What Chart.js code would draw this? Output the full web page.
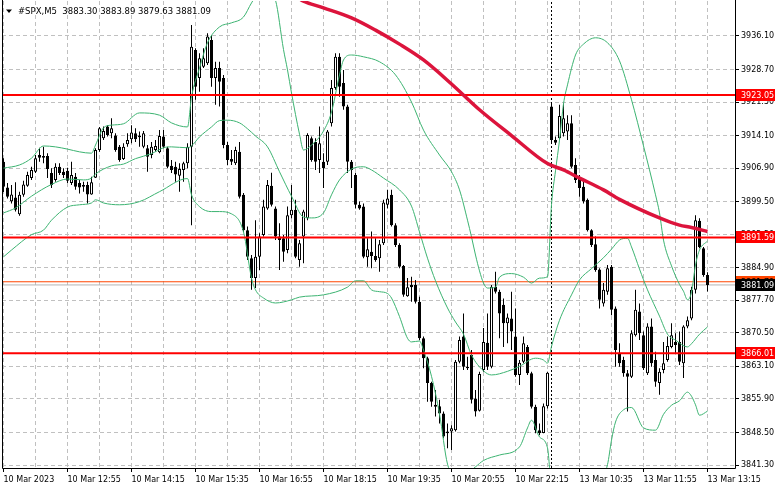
<!DOCTYPE html>
<html>
<head>
<meta charset="utf-8">
<script src="https://cdn.jsdelivr.net/npm/chart.js@4.4.1/dist/chart.umd.min.js"></script>
<style>
  html, body { margin: 0; padding: 0; background: #fff; }
  #wrap { width: 781px; height: 489px; position: relative; }
</style>
</head>
<body>
<div id="wrap"><canvas id="myChart"></canvas></div>
<script>
// bar index of each time label (5 minute bars)
var timeTicks = [0, 16, 32, 48, 64, 80, 96, 112, 128, 144, 160, 176];
var timeLabels = ['10 Mar 2023', '10 Mar 12:55', '10 Mar 14:15', '10 Mar 15:35', '10 Mar 16:55', '10 Mar 18:15',
  '10 Mar 19:35', '10 Mar 20:55', '10 Mar 22:15', '13 Mar 10:35', '13 Mar 11:55', '13 Mar 13:15'];
var priceTicks = [3841.30, 3848.50, 3855.90, 3863.10, 3870.50, 3877.70, 3884.90, 3892.20, 3899.50,
  3906.90, 3914.10, 3921.50, 3928.70, 3936.10];

var opens = [3908.3,3902.6,3899.6,3900.4,3896.7,3901.0,3903.0,3904.7,3906.1,3909.8,3909.2,3909.6,3905.8,3904.3,3907.2,3906.1,3906.3,3903.6,3905.0,3903.6,
  3902.8,3903.2,3901.1,3904.8,3910.9,3913.5,3916.1,3914.6,3914.1,3911.6,3908.9,3912.2,3913.3,3914.6,3914.1,3911.6,3911.3,3909.8,3910.9,3910.4,
  3913.9,3911.3,3907.4,3907.2,3905.2,3906.5,3908.0,3911.6,3933.0,3926.8,3929.3,3930.1,3935.2,3926.8,3929.0,3926.8,3912.0,3908.9,3908.0,3910.5,
  3901.0,3893.2,3887.0,3882.6,3887.3,3892.1,3898.0,3903.0,3898.0,3891.8,3891.4,3888.8,3896.5,3897.7,3886.6,3891.8,3895.8,3913.5,3912.7,3908.7,
  3908.3,3908.3,3916.8,3924.6,3931.5,3925.7,3920.5,3908.3,3905.4,3898.8,3898.4,3887.2,3888.4,3887.5,3887.0,3890.3,3898.8,3901.0,3894.3,3889.9,
  3885.3,3878.6,3881.1,3881.1,3877.4,3869.3,3864.9,3859.4,3854.6,3854.3,3852.7,3848.7,3848.7,3849.0,3864.1,3869.7,3863.0,3865.6,3856.0,3853.3,
  3862.3,3868.3,3863.0,3880.7,3879.6,3876.7,3872.6,3873.7,3869.7,3861.2,3864.1,3867.4,3861.6,3854.2,3849.0,3848.4,3854.3,3920.5,3913.1,3913.5,
  3914.6,3915.0,3916.8,3907.6,3905.0,3902.8,3899.9,3893.2,3890.1,3884.5,3877.0,3879.6,3885.1,3875.9,3866.0,3864.5,3861.6,3860.8,3870.0,3875.2,
  3870.0,3861.6,3871.9,3864.5,3859.4,3862.3,3864.5,3867.4,3868.5,3868.5,3863.8,3871.9,3873.7,3880.0,3895.3,3889.2,3883.30];
var highs = [3909.1,3903.6,3903.2,3903.8,3901.7,3904.1,3906.1,3907.2,3909.8,3911.4,3911.6,3910.2,3906.9,3908.0,3908.0,3906.9,3907.0,3908.3,3905.8,3904.3,
  3903.9,3903.9,3905.0,3911.3,3916.0,3916.1,3916.4,3917.9,3914.6,3912.0,3912.4,3914.6,3916.4,3915.7,3915.0,3915.1,3912.0,3912.7,3913.1,3915.3,
  3915.3,3911.6,3908.7,3908.3,3908.0,3908.3,3912.4,3938.5,3933.4,3932.3,3933.4,3936.7,3936.3,3930.4,3930.4,3927.5,3912.7,3910.9,3911.6,3912.7,
  3901.4,3894.0,3887.7,3895.4,3892.5,3899.9,3904.3,3905.9,3898.4,3894.7,3892.1,3898.4,3903.2,3899.9,3891.0,3897.7,3914.6,3913.9,3913.5,3916.1,
  3910.2,3915.3,3926.4,3932.3,3932.3,3928.6,3920.9,3908.7,3905.8,3899.5,3899.1,3891.4,3892.9,3891.4,3891.0,3899.9,3902.1,3902.1,3894.7,3890.3,
  3885.5,3882.6,3882.9,3882.2,3878.5,3869.7,3865.2,3859.7,3857.9,3855.7,3853.1,3850.5,3850.1,3864.5,3869.7,3874.8,3865.2,3866.7,3857.9,3861.9,
  3871.6,3874.8,3881.1,3884.0,3880.0,3878.1,3874.8,3879.6,3875.9,3864.5,3869.7,3867.8,3861.9,3854.6,3850.5,3854.9,3861.9,3921.2,3913.9,3920.9,
  3921.2,3918.6,3918.6,3909.1,3905.4,3903.9,3900.2,3893.4,3891.8,3884.8,3881.5,3885.5,3885.5,3876.3,3868.2,3865.2,3862.3,3871.1,3880.0,3877.0,
  3870.8,3872.6,3873.7,3866.3,3862.7,3868.5,3869.7,3872.6,3870.4,3870.8,3872.2,3874.1,3880.7,3896.5,3895.8,3889.5,3883.89];
var lows = [3901.6,3900.2,3899.1,3897.3,3896.4,3900.6,3902.8,3904.3,3905.8,3908.3,3908.0,3904.7,3902.5,3903.9,3905.4,3904.7,3903.6,3903.2,3902.1,3901.3,
  3901.7,3899.1,3901.0,3904.7,3910.5,3913.1,3913.9,3913.5,3910.5,3908.3,3908.7,3911.6,3912.4,3912.7,3911.6,3911.3,3906.1,3909.1,3910.5,3910.2,
  3911.3,3906.9,3905.8,3903.9,3901.7,3903.9,3906.9,3894.3,3922.0,3923.8,3929.0,3929.7,3924.9,3920.9,3920.5,3911.3,3907.6,3907.6,3907.6,3900.2,
  3892.8,3886.6,3880.0,3880.4,3884.4,3891.8,3897.7,3898.4,3891.0,3884.4,3886.2,3888.1,3895.8,3887.0,3885.1,3885.9,3895.4,3908.3,3906.5,3905.8,
  3902.5,3907.6,3916.1,3924.2,3922.7,3919.8,3905.8,3902.5,3898.0,3897.7,3887.0,3885.1,3884.8,3886.2,3884.0,3889.9,3898.0,3894.0,3889.5,3884.8,
  3878.5,3878.5,3877.4,3877.0,3868.9,3862.7,3855.3,3854.2,3852.0,3850.5,3847.2,3845.0,3844.6,3848.7,3863.8,3862.3,3862.3,3854.9,3852.0,3853.1,
  3861.9,3862.3,3862.7,3879.2,3869.3,3867.4,3868.2,3866.7,3860.8,3859.0,3863.8,3861.2,3853.8,3848.3,3847.9,3848.3,3853.8,3912.7,3912.0,3913.1,
  3913.9,3913.1,3906.9,3903.6,3900.6,3899.1,3892.9,3889.5,3884.0,3875.9,3876.3,3878.9,3874.4,3863.0,3863.0,3860.8,3853.1,3860.5,3869.7,3868.9,
  3862.3,3861.2,3863.0,3858.6,3856.8,3861.6,3864.1,3867.1,3866.0,3863.4,3860.5,3871.5,3873.3,3879.2,3889.2,3882.9,3879.63];
var closes = [3902.8,3900.6,3901.1,3897.7,3901.0,3903.3,3905.4,3906.5,3909.1,3909.2,3909.6,3906.7,3903.2,3907.2,3905.8,3905.4,3904.1,3905.4,3902.8,3902.6,
  3903.2,3901.1,3903.8,3910.9,3915.7,3915.1,3914.2,3915.7,3910.9,3908.7,3911.6,3913.1,3914.8,3913.3,3913.7,3914.6,3909.4,3911.6,3911.8,3914.0,
  3911.6,3907.2,3906.5,3905.5,3906.7,3908.0,3911.6,3933.7,3924.9,3931.2,3931.2,3936.0,3926.8,3929.0,3926.0,3912.0,3908.7,3908.3,3910.9,3900.6,
  3893.2,3887.3,3882.6,3887.3,3891.8,3898.4,3903.2,3898.8,3891.8,3891.0,3888.4,3896.5,3897.7,3887.3,3890.3,3897.3,3914.2,3908.7,3908.3,3912.4,
  3906.9,3915.0,3924.6,3931.5,3924.9,3920.5,3908.3,3906.5,3898.8,3898.0,3887.3,3889.0,3887.5,3886.6,3890.1,3899.3,3900.2,3894.3,3889.9,3885.1,
  3878.9,3880.6,3880.6,3877.4,3869.3,3864.9,3859.4,3855.3,3854.2,3852.7,3847.6,3848.3,3849.4,3864.1,3868.9,3863.0,3862.7,3855.7,3853.1,3861.4,
  3868.5,3863.0,3880.7,3879.6,3874.8,3872.6,3873.9,3870.8,3861.2,3863.9,3868.2,3861.6,3854.2,3849.0,3848.3,3854.3,3861.7,3913.1,3912.5,3918.4,
  3917.9,3916.8,3907.2,3904.3,3902.5,3899.5,3893.2,3889.9,3884.4,3877.8,3880.0,3884.8,3875.6,3866.7,3863.8,3861.6,3860.8,3870.4,3875.6,3870.4,
  3862.7,3871.9,3863.8,3859.7,3861.9,3863.8,3867.6,3870.0,3867.8,3864.1,3871.9,3873.3,3880.0,3895.4,3889.5,3883.3,3881.09];

// moving average, read at a few bars
var maIdx = [74, 75, 80, 87, 93, 99, 105, 112, 119, 127, 136, 140, 144, 150, 154, 164, 169, 172, 176];
var maVal = [3944.3, 3943.8, 3942.3, 3940.1, 3937.4, 3934.3, 3930.8, 3925.5, 3919.8, 3914.1, 3907.9, 3906.5,
  3904.7, 3902.1, 3900.0, 3895.9, 3894.3, 3893.8, 3892.9];

// Bollinger bands, read at a few bars
var upIdx = [0,4,7,10,13,16,19,22,23,25,27,30,34,39,42,46,47,49,51,54,57,60,62,65,68,70,71,72,74,75,77,80,82,84,85,87,90,94,98,102,105,109,112,114,
  116,117,118,119,120,121,123,124,127,130,132,134,136,137,138,139,140,141,143,145,148,151,154,157,160,163,164,165,167,169,170,171,172,173,174,176];
var upVal = [3906.9,3907.6,3909.1,3911.8,3911.6,3911.1,3910.5,3910.2,3912.0,3915.8,3916.4,3916.7,3919.1,3918.6,3916.9,3916.0,3922.6,3929.0,3934.6,
  3938.1,3939.0,3940.3,3943.4,3947.0,3944.0,3933.1,3928.6,3923.5,3914.4,3910.9,3912.0,3915.1,3919.3,3927.5,3930.8,3931.9,3931.5,3930.4,3927.5,
  3921.5,3915.3,3909.8,3906.1,3902.1,3895.4,3891.7,3887.7,3884.2,3881.5,3880.4,3880.6,3882.8,3883.6,3882.8,3881.5,3882.6,3882.9,3898.8,3906.3,
  3913.1,3921.1,3925.3,3931.9,3934.3,3935.7,3934.6,3930.6,3922.0,3911.8,3901.0,3897.0,3891.0,3885.3,3881.2,3879.7,3877.8,3879.5,3885.5,3888.8,3890.8];
var midIdx = [0,3,7,12,16,20,22,23,27,30,33,37,40,42,46,47,49,52,54,56,59,61,63,66,69,72,75,77,80,82,84,87,90,92,95,99,102,104,106,108,111,113,
  115,117,120,122,126,129,133,135,136,137,139,142,144,147,150,152,154,156,157,159,161,164,166,168,171,172,174,176];
var midVal = [3897.0,3898.1,3900.7,3903.3,3904.5,3904.3,3904.7,3905.6,3907.4,3907.8,3909.0,3910.1,3911.4,3911.6,3911.4,3911.8,3913.8,3916.0,3917.4,
  3917.5,3916.9,3915.6,3914.0,3911.6,3906.1,3900.7,3896.1,3895.9,3897.0,3901.0,3904.3,3906.7,3907.2,3906.5,3904.7,3902.1,3898.5,3892.8,3887.0,
  3882.0,3876.0,3872.9,3870.2,3865.6,3862.1,3861.2,3862.0,3863.1,3864.9,3864.5,3863.8,3867.5,3873.3,3878.9,3882.2,3884.7,3887.1,3889.0,3891.0,
  3891.4,3889.5,3884.6,3880.0,3874.2,3870.2,3868.9,3867.4,3868.1,3870.2,3871.8];
var lowIdx = [0,2,7,10,12,16,19,22,23,25,29,34,39,46,47,49,52,54,57,60,62,63,65,68,72,74,80,86,88,90,92,94,96,97,99,101,102,104,105,107,109,111,
  113,115,118,120,124,129,131,132,134,136,137,139,143,148,151,152,153,155,157,160,163,165,167,169,171,172,173,174,176];
var lowVal = [3887.3,3888.8,3892.2,3893.2,3895.4,3898.3,3898.8,3899.2,3899.9,3899.2,3898.8,3899.5,3901.7,3904.6,3901.0,3898.4,3897.3,3897.3,3896.8,
  3892.8,3882.6,3880.0,3878.2,3877.1,3877.8,3878.4,3878.9,3880.6,3882.0,3882.0,3880.0,3879.6,3879.2,3878.2,3874.1,3869.3,3868.5,3868.7,3866.7,
  3860.9,3852.6,3841.5,3839.0,3839.0,3840.9,3842.3,3843.5,3845.3,3849.5,3851.2,3847.5,3845.1,3836.2,3833.5,3830.0,3836.0,3841.4,3846.8,3850.8,
  3853.5,3854.0,3849.5,3849.0,3852.5,3854.5,3855.5,3857.4,3856.5,3854.6,3852.3,3853.2];

var levels = [3923.05, 3891.59, 3866.01];
var bidPrice = 3881.09;
var askPrice = 3881.79;
var sepIdx = 137;
var titleText = '#SPX,M5  3883.30 3883.89 3879.63 3881.09';

var xMin = -0.375, xMax = 182.875;
var yMin = 3840.64, yMax = 3943.83;
var FONT = '"DejaVu Sans", sans-serif';

function pts(ix, vals) {
  return ix.map(function(x, k) { return {x: x, y: vals[k]}; });
}
function hline(v) {
  return [{x: xMin, y: v}, {x: xMax, y: v}];
}

var datasets = [];
datasets.push({type: 'line', data: pts(maIdx, maVal), borderColor: '#DC143C', borderWidth: 3.5,
  pointRadius: 0, cubicInterpolationMode: 'monotone', order: 0});
levels.forEach(function(lv) {
  datasets.push({type: 'line', data: hline(lv), borderColor: '#FF0000', borderWidth: 2, pointRadius: 0, order: 1});
});
[[upIdx, upVal], [midIdx, midVal], [lowIdx, lowVal]].forEach(function(b) {
  datasets.push({type: 'line', data: pts(b[0], b[1]), borderColor: '#3CB371', borderWidth: 1,
    pointRadius: 0, cubicInterpolationMode: 'monotone', order: 2});
});
datasets.push({
  type: 'bar',
  data: opens.map(function(o, i) { return {x: i, y: [o, closes[i]]}; }),
  backgroundColor: opens.map(function(o, i) { return closes[i] >= o ? '#FFFFFF' : '#000000'; }),
  borderColor: '#000000', borderWidth: 1, borderSkipped: false, barThickness: 3,
  grouped: false, inflateAmount: 0, minBarLength: 1, order: 3
});
datasets.push({
  type: 'bar',
  data: lows.map(function(l, i) { return {x: i, y: [l, highs[i]]}; }),
  backgroundColor: '#000000', borderWidth: 0, barThickness: 1,
  grouped: false, inflateAmount: 0, order: 4
});
datasets.push({type: 'line', data: hline(bidPrice), borderColor: '#B4B4B4', borderWidth: 1, pointRadius: 0, order: 5});
datasets.push({type: 'line', data: hline(askPrice), borderColor: '#FF4500', borderWidth: 1, pointRadius: 0, order: 5});
datasets.push({type: 'line', data: [{x: sepIdx, y: yMin}, {x: sepIdx, y: yMax}], borderColor: '#000000',
  borderWidth: 1, borderDash: [2, 2], pointRadius: 0, order: 6});

var overlay = {
  id: 'overlay',
  afterDraw: function(chart) {
    var c = chart.ctx, a = chart.chartArea, ys = chart.scales.y;
    c.save();
    // frame
    c.strokeStyle = '#000';
    c.lineWidth = 1;
    c.beginPath();
    c.moveTo(Math.floor(a.left) + 0.5, 0);
    c.lineTo(Math.floor(a.left) + 0.5, Math.round(a.bottom) + 0.5);
    c.lineTo(Math.round(a.right) + 0.5, Math.round(a.bottom) + 0.5);
    c.lineTo(Math.round(a.right) + 0.5, 0);
    c.stroke();

    // price tags on the right axis
    c.font = '8px ' + FONT;
    c.textBaseline = 'middle';
    function tag(price, bg, fg) {
      var py = Math.round(ys.getPixelForValue(price));
      c.fillStyle = bg;
      c.fillRect(Math.round(a.right) + 1, py - 6, 39, 12);
      c.fillStyle = fg;
      c.fillText(price.toFixed(2), Math.round(a.right) + 6, py + 0.5);
    }
    tag(askPrice, '#FF4500', '#000000');
    tag(bidPrice, '#000000', '#FFFFFF');
    levels.forEach(function(lv) { tag(lv, '#FF0000', '#FFFFFF'); });

    // title
    c.fillStyle = '#000';
    c.beginPath();
    c.moveTo(6, 9.5); c.lineTo(12, 9.5); c.lineTo(9, 13);
    c.closePath();
    c.fill();
    c.font = '8.5px ' + FONT;
    c.textBaseline = 'alphabetic';
    c.fillText(titleText, 18, 13.5);
    c.restore();
  }
};

var ctx = document.getElementById('myChart').getContext('2d');
var config = {
  type: 'bar',
  data: {datasets: datasets},
  options: {
    responsive: true,
    maintainAspectRatio: false,
    devicePixelRatio: 1,
    animation: false,
    events: [],
    layout: {padding: {left: 2, top: 1, right: 0, bottom: 0}},
    plugins: {legend: {display: false}, tooltip: {enabled: false}},
    scales: {
      x: {
        type: 'linear', min: xMin, max: xMax, offset: false,
        afterBuildTicks: function(s) {
          var t = [];
          for (var v = 0; v <= 176; v += 8) t.push({value: v});
          s.ticks = t;
        },
        afterFit: function(s) { s.height = 21; s.paddingLeft = 0; s.paddingRight = 0; },
        border: {display: false, dash: [4, 3]},
        grid: {
          offset: false, color: '#C0C0C0', lineWidth: 1, tickLength: 4,
          tickColor: function(c) { return c.tick && timeTicks.indexOf(c.tick.value) >= 0 ? '#000' : 'rgba(0,0,0,0)'; }
        },
        ticks: {
          autoSkip: false, maxRotation: 0, minRotation: 0, align: 'start', padding: 3,
          color: '#000', font: {family: FONT, size: 8},
          callback: function(v) { var k = timeTicks.indexOf(v); return k >= 0 ? timeLabels[k] : ''; }
        }
      },
      y: {
        type: 'linear', position: 'right', min: yMin, max: yMax,
        afterBuildTicks: function(s) {
          s.ticks = priceTicks.map(function(v) { return {value: v}; });
        },
        afterFit: function(s) { s.width = 46; s.paddingTop = 0; s.paddingBottom = 0; },
        border: {display: false, dash: [4, 3]},
        grid: {color: '#C0C0C0', lineWidth: 1, tickLength: 4, tickColor: '#000'},
        ticks: {
          padding: 2, color: '#000', font: {family: FONT, size: 8},
          callback: function(v) { return Number(v).toFixed(2); }
        }
      }
    }
  },
  plugins: [overlay]
};
var myChart = new Chart(ctx, config);
</script>
</body>
</html>
